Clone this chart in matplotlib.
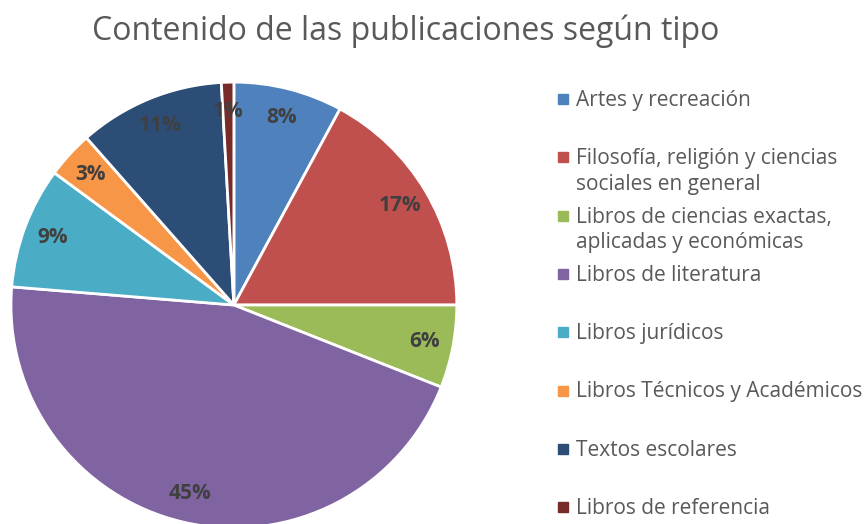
import matplotlib.pyplot as plt
from matplotlib.lines import Line2D

# data (percent of publications)
categorias = ["Artes y recreación",
              "Filosofía, religión y ciencias\nsociales en general",
              "Libros de ciencias exactas,\naplicadas y económicas",
              "Libros de literatura",
              "Libros jurídicos",
              "Libros Técnicos y Académicos",
              "Textos escolares",
              "Libros de referencia"]
valores = [7.9, 17.1, 6.0, 45.3, 8.8, 3.4, 10.6, 0.9]
colores = ["#4F81BD", "#C0504D", "#9BBB59", "#8064A2",
           "#4BACC6", "#F79646", "#2C4D75", "#772C2A"]

plt.rcParams['font.family'] = ['Open Sans', 'DejaVu Sans']

fig = plt.figure(figsize=(8.64, 5.24), dpi=100)
ax = fig.add_axes([0.0127, -0.0076, 0.516, 0.851])

wedges, texts, autotexts = ax.pie(
    valores, colors=colores, startangle=90, counterclock=False,
    autopct='%.0f%%', pctdistance=0.87,
    wedgeprops=dict(edgecolor='white', linewidth=2),
    textprops=dict(color='#404040', fontsize=15, fontweight='bold'))
for w in wedges:
    w.set_clip_on(False)
ax.set_xlim(-1, 1)
ax.set_ylim(-1, 1)
ax.set_aspect('equal')

fig.text(0.469, 0.940, "Contenido de las publicaciones según tipo",
         ha='center', va='center', fontsize=23, color='#595959')

# legend, evenly spaced like the original
y0 = 99
for i, (lab, c) in enumerate(zip(categorias, colores)):
    y = 1 - (y0 + i * 58.3) / 524
    fig.add_artist(Line2D([563 / 864], [y], marker='s', markersize=7,
                          color=c, transform=fig.transFigure))
    fig.text(576 / 864, y + 9 / 524, lab, ha='left', va='top',
             fontsize=15, color='#595959', linespacing=1.3)

fig.savefig("out.png", dpi=100)
